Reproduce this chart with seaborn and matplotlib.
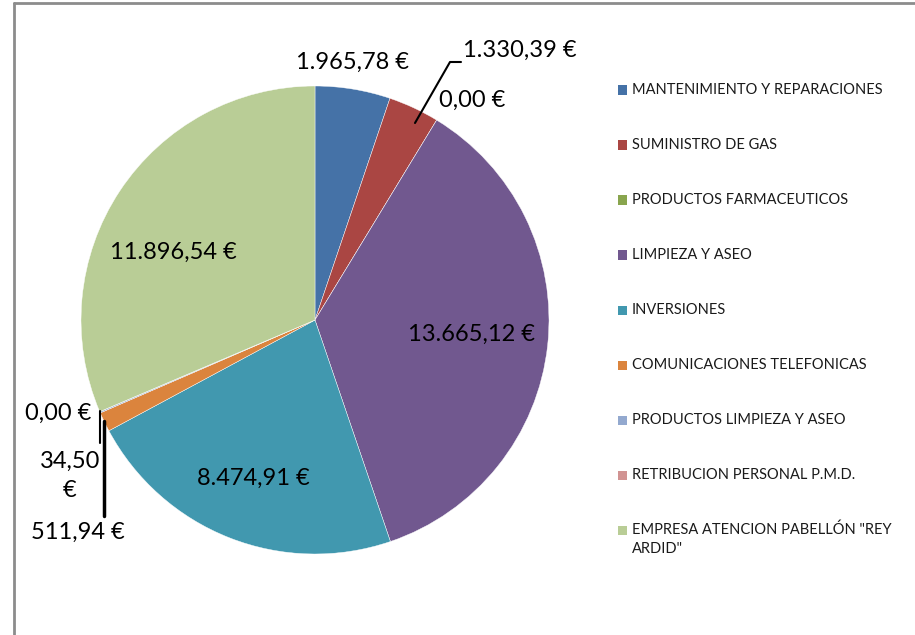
import textwrap
import matplotlib
matplotlib.use("Agg")
import matplotlib.pyplot as plt
from matplotlib.lines import Line2D
from matplotlib.patches import Rectangle
import seaborn as sns

categories = [
    "MANTENIMIENTO Y REPARACIONES",
    "SUMINISTRO DE GAS",
    "PRODUCTOS FARMACEUTICOS",
    "LIMPIEZA Y ASEO",
    "INVERSIONES",
    "COMUNICACIONES TELEFONICAS",
    "PRODUCTOS LIMPIEZA Y ASEO",
    "RETRIBUCION PERSONAL P.M.D.",
    'EMPRESA ATENCION PABELLÓN "REY ARDID"',
]
values = [1965.78, 1330.39, 0.00, 13665.12, 8474.91, 511.94, 34.50, 0.00, 11896.54]
colors = ["#4572A7", "#AA4643", "#89A54E", "#71588F", "#4198AF",
          "#DB843D", "#93A9CF", "#D19392", "#B9CD96"]

sns.set_theme(style="white")
plt.rcParams["font.family"] = ["Lato", "DejaVu Sans"]
palette = sns.color_palette(colors)

W, H = 915, 635
fig = plt.figure(figsize=(W / 100, H / 100), dpi=100)


def fx(px):
    return px / W


def fy(py):
    return 1 - py / H


# chart frame (cropped on right and bottom)
fig.add_artist(Line2D([fx(14), fx(14)], [fy(3), fy(640)], color="#8C8C8C", lw=2))
fig.add_artist(Line2D([fx(14), fx(920)], [fy(3), fy(3)], color="#8C8C8C", lw=2))

# pie
cx, cy, r = 315, 320, 234
ax = fig.add_axes([fx(cx - r), fy(cy + r), 2 * r / W, 2 * r / H])
ax.pie(values, colors=palette, startangle=90, counterclock=False, radius=1,
       wedgeprops=dict(linewidth=0.3, edgecolor="white"))
ax.set_xlim(-1, 1)
ax.set_ylim(-1, 1)
ax.set_aspect("equal")
ax.axis("off")


def fmt(v):
    s = f"{v:,.2f}".replace(",", "X").replace(".", ",").replace("X", ".")
    return s + " €"


labels = [fmt(v) for v in values]

# label layout (pixel positions, alignment)
label_pos = [
    (352, 62, "center"),
    (463, 50, "left"),
    (472, 100, "center"),
    (472, 334, "center"),
    (253, 478, "center"),
    (78, 532, "center"),
    (70, 476, "center"),
    (58, 413, "center"),
    (173, 252, "center"),
]
for i, (lab, (px, py, ha)) in enumerate(zip(labels, label_pos)):
    txt = lab
    if i == 6:
        txt = lab.replace(" ", "\n")
    fig.text(fx(px), fy(py), txt, ha=ha, va="center", fontsize=17,
             color="black", linespacing=1.5)

# leader lines
fig.add_artist(Line2D([fx(415), fx(450), fx(461)], [fy(123), fy(62), fy(62)],
                      color="black", lw=1.5))
fig.add_artist(Line2D([fx(100), fx(100)], [fy(411), fy(443)], color="black", lw=1.5))
fig.add_artist(Line2D([fx(104), fx(104)], [fy(421), fy(516)], color="black", lw=2.5))

# legend
for i, (cat, col) in enumerate(zip(categories, palette)):
    y = 90 + 55 * i
    fig.add_artist(Rectangle((fx(618), fy(y + 4.5)), 9 / W, 9 / H,
                             facecolor=col, edgecolor="none",
                             transform=fig.transFigure))
    fig.text(fx(632), fy(y - 7), textwrap.fill(cat, 30), ha="left", va="top",
             fontsize=10.5, color="#1a1a1a", linespacing=1.38)

fig.savefig("out.png", dpi=100)
